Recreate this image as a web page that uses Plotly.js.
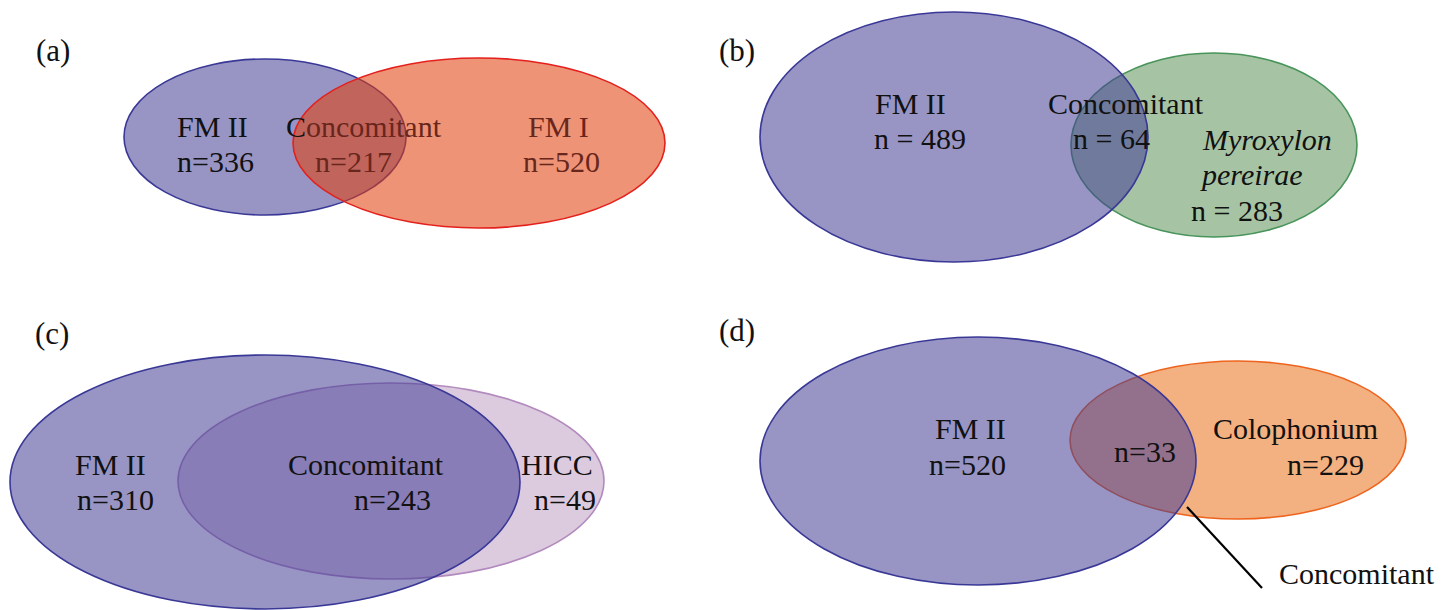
<!DOCTYPE html>
<html>
<head>
<meta charset="utf-8">
<script src="https://cdn.plot.ly/plotly-3.0.1.min.js"></script>
<style>
  html, body { margin: 0; padding: 0; background: #ffffff; }
  #venn { width: 1445px; height: 610px; }
</style>
</head>
<body>
<div id="venn"></div>
<script>
// ---- data: four two-set comparisons against FM II ----
const panelTags    = ['(a)', '(b)', '(c)', '(d)'];
const leftSets     = ['FM II', 'FM II', 'FM II', 'FM II'];
const rightSets    = ['FM I', 'Myroxylon pereirae', 'HICC', 'Colophonium'];
const leftOnly     = [336, 489, 310, 520];
const rightOnly    = [520, 283, 49, 229];
const sharedLabel  = 'Concomitant';
const sharedCounts = [217, 64, 243, 33];
const eqSign       = ['=', ' = ', '=', '='];

// ---- drawing geometry (pixel space of a 1445 x 610 canvas) ----
// each ellipse: centre x, centre y, radius x, radius y
const geo = [
  { L: [265, 137, 141, 78],  R: [479, 143, 186, 85],  rightOnTop: true },
  { L: [954, 137, 194, 125], R: [1214, 145, 143, 92], rightOnTop: false },
  { L: [265, 482, 255, 127], R: [391, 481, 213, 98],  rightOnTop: false },
  { L: [978, 461, 218, 124], R: [1238, 440, 168, 79], rightOnTop: false }
];
const tagPos = [[53, 50], [737, 50], [52, 333], [737, 330]];

const blueLine = 'rgb(58,56,150)';
const blueFill = 'rgba(67,62,149,0.55)';
const blueSolid = 'rgb(152,149,197)';
const rightStyle = [
  { fill: 'rgba(225,62,10,0.56)', line: 'rgb(228,32,28)' },
  { fill: 'rgb(166,196,164)',     line: 'rgb(72,148,90)' },
  { fill: 'rgb(220,203,223)',     line: 'rgb(178,138,190)' },
  { fill: 'rgb(243,176,128)',     line: 'rgb(238,100,30)' }
];

function ellipse(e, fill, line) {
  return {
    type: 'circle', xref: 'x', yref: 'y', layer: 'above',
    x0: e[0] - e[2], x1: e[0] + e[2], y0: e[1] - e[3], y1: e[1] + e[3],
    fillcolor: fill, line: { color: line, width: 1.6 }
  };
}

const shapes = [];
geo.forEach((g, i) => {
  const rs = rightStyle[i];
  if (g.rightOnTop) {
    shapes.push(ellipse(g.L, blueSolid, blueLine));
    shapes.push(ellipse(g.R, rs.fill, rs.line));
  } else {
    shapes.push(ellipse(g.R, rs.fill, rs.line));
    shapes.push(ellipse(g.L, blueFill, blueLine));
  }
});
// leader line to the overlap of panel (d)
shapes.push({ type: 'line', xref: 'x', yref: 'y', layer: 'above',
  x0: 1187, y0: 507, x1: 1262, y1: 588, line: { color: '#000', width: 2.2 } });

const FONT = 'Liberation Serif, Times New Roman, serif';
const ink = '#111111';
const under = 'rgb(104,38,28)';   // lettering seen through the red ellipse
const annotations = [];
function txt(x, y, s, color, size) {
  annotations.push({ x: x, y: y, xref: 'x', yref: 'y', text: s, showarrow: false,
    xanchor: 'center', yanchor: 'middle',
    font: { family: FONT, size: size || 30, color: color || ink } });
}
const nLab = (i, v) => 'n' + eqSign[i] + v;

panelTags.forEach((t, i) => txt(tagPos[i][0], tagPos[i][1], t, ink, 31));

// (a)
txt(212, 126, leftSets[0]);      txt(215, 161, nLab(0, leftOnly[0]));
txt(364, 126, '<span style="color:#111">' + sharedLabel.charAt(0) + '</span>' + sharedLabel.slice(1), under);
txt(353, 161, nLab(0, sharedCounts[0]), under);
txt(558, 126, rightSets[0], under); txt(561, 161, nLab(0, rightOnly[0]), under);

// (b)
const myro = rightSets[1].split(' ');
txt(910, 103, leftSets[1]);      txt(920, 138, nLab(1, leftOnly[1]));
txt(1126, 103, sharedLabel);     txt(1111, 138, nLab(1, sharedCounts[1]));
txt(1267, 139, '<i>' + myro[0] + '</i>'); txt(1251, 174, '<i>' + myro[1] + '</i>');
txt(1237, 210, nLab(1, rightOnly[1]));

// (c)
txt(110, 464, leftSets[2]);      txt(115, 499, nLab(2, leftOnly[2]));
txt(366, 464, sharedLabel);      txt(392, 499, nLab(2, sharedCounts[2]));
txt(557, 464, rightSets[2]);     txt(565, 499, nLab(2, rightOnly[2]));

// (d)
txt(970, 428, leftSets[3]);      txt(967, 464, nLab(3, leftOnly[3]));
txt(1145, 451, nLab(3, sharedCounts[3]));
txt(1295, 428, rightSets[3]);    txt(1325, 464, nLab(3, rightOnly[3]));
txt(1357, 573, sharedLabel);

const layout = {
  width: 1445, height: 610,
  margin: { l: 0, r: 0, t: 0, b: 0 },
  paper_bgcolor: '#ffffff', plot_bgcolor: '#ffffff',
  showlegend: false,
  xaxis: { range: [0, 1445], visible: false, fixedrange: true },
  yaxis: { range: [610, 0], visible: false, fixedrange: true },
  shapes: shapes,
  annotations: annotations
};

Plotly.newPlot('venn', [], layout, { displayModeBar: false, staticPlot: true });
</script>
</body>
</html>
